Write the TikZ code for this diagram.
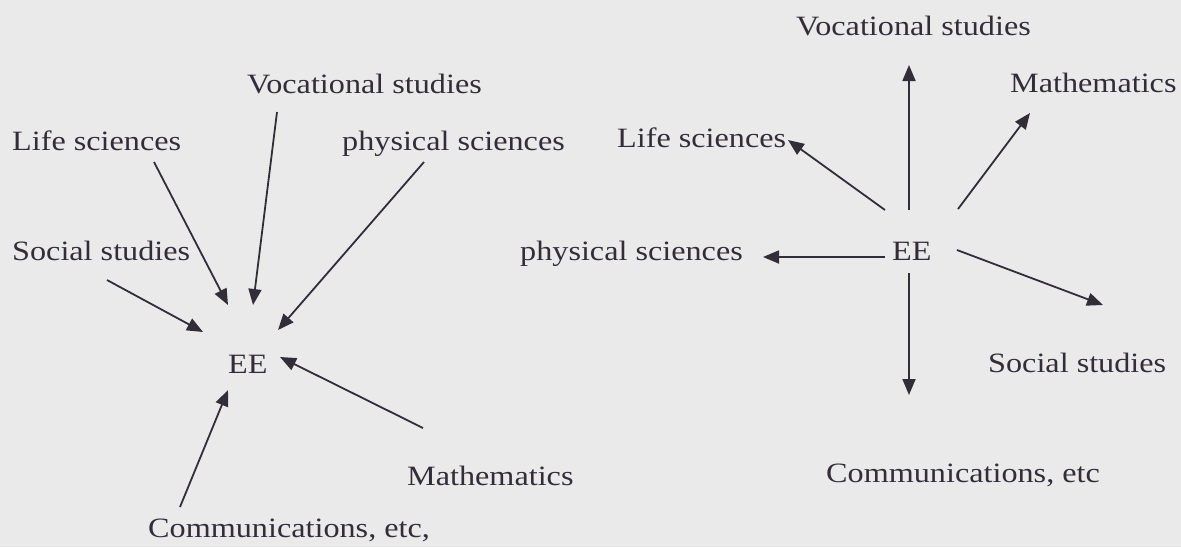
\documentclass[tikz,border=0pt]{standalone}
\usepackage{fontspec}
\setmainfont{Liberation Serif}[FakeStretch=1.15]
\usetikzlibrary{arrows.meta,calc}
\definecolor{bg}{RGB}{235,234,235}
\definecolor{ink}{RGB}{50,46,56}
\begin{document}
\begin{tikzpicture}[x=1pt,y=-1pt,
  lbl/.style={inner sep=0pt,anchor=base west,text=ink,font=\fontsize{28}{32}\selectfont},
  arr/.style={draw=ink,line width=1.8pt,-{Triangle[length=16pt,width=13pt]}}]
\fill[bg] (0,0) rectangle (1181,547);
\useasboundingbox (0,0) rectangle (1181,547);
% left diagram
\node[lbl] (vsL) at (247,93) {Vocational studies};
\node[lbl] (lsL) at (12,150) {Life sciences};
\node[lbl] (psL) at (342,150) {physical sciences};
\node[lbl] (ssL) at (12,260) {Social studies};
\node[lbl] (eeL) at (228,373) {EE};
\node[lbl] (maL) at (407,485) {Mathematics};
\node[lbl] (coL) at (148,537) {Communications, etc,};
\draw[arr] ($(lsL.base west)+(142,12)$) -- ($(eeL.base west)+(0,-68)$);
\draw[arr] ($(vsL.base west)+(30,19)$) -- ($(eeL.base west)+(25,-68)$);
\draw[arr] ($(psL.base west)+(82,12)$) -- ($(eeL.base west)+(50,-43)$);
\draw[arr] ($(ssL.base west)+(95,20)$) -- ($(eeL.base west)+(-25,-41)$);
\draw[arr] ($(maL.base west)+(16,-57)$) -- ($(eeL.base west)+(52,-16)$);
\draw[arr] ($(coL.base west)+(32,-30)$) -- ($(eeL.base west)+(0,17)$);
% right diagram
\node[lbl] (vsR) at (796,35) {Vocational studies};
\node[lbl] (maR) at (1010,92) {Mathematics};
\node[lbl] (lsR) at (617,147) {Life sciences};
\node[lbl] (psR) at (520,260) {physical sciences};
\node[lbl] (eeR) at (892,260) {EE};
\node[lbl] (ssR) at (988,372) {Social studies};
\node[lbl] (coR) at (826,482) {Communications, etc};
\draw[arr] ($(eeR.base west)+(17,-50)$) -- ($(vsR.base west)+(113,30)$);
\draw[arr] ($(eeR.base west)+(66,-51)$) -- ($(maR.base west)+(20,21)$);
\draw[arr] ($(eeR.base west)+(-7,-50)$) -- ($(lsR.base west)+(171,-7)$);
\draw[arr] ($(eeR.base west)+(-7,-3)$) -- ($(psR.base west)+(243,-3)$);
\draw[arr] ($(eeR.base west)+(65,-10)$) -- ($(ssR.base west)+(115,-67)$);
\draw[arr] ($(eeR.base west)+(17,13)$) -- ($(coR.base west)+(83,-87)$);
\end{tikzpicture}
\end{document}
